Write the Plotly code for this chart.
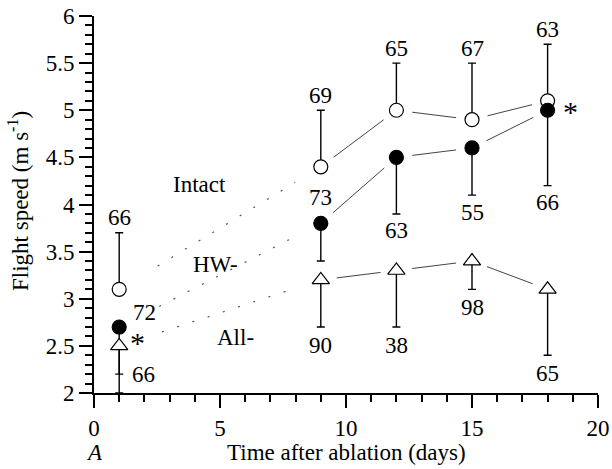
import math
import plotly.graph_objects as go

# ---------------- data ----------------
days = [1, 9, 12, 15, 18]

intact_speed = [3.1, 4.4, 5.0, 4.9, 5.1]
intact_err_up = [0.6, 0.6, 0.5, 0.6, 0.6]
intact_n = [66, 69, 65, 67, 63]

hw_speed = [2.7, 3.8, 4.5, 4.6, 5.0]
hw_err_down = [0.7, 0.4, 0.6, 0.5, 0.8]
hw_n = [72, 73, 63, 55, 66]

all_speed = [2.5, 3.2, 3.3, 3.4, 3.1]
all_err_down = [0.3, 0.5, 0.6, 0.3, 0.7]
all_n = [66, 90, 38, 98, 65]

series_names = ["Intact", "HW-", "All-"]
x_ticks = [0, 5, 10, 15, 20]
y_ticks = [2, 2.5, 3, 3.5, 4, 4.5, 5, 5.5, 6]

# ---------------- layout constants ----------------
W, H = 612, 469
ML, MR, MT, MB = 94, 14, 16, 76
PW, PH = W - ML - MR, H - MT - MB
XR = [0, 20]
YR = [2, 6]
sx = PW / (XR[1] - XR[0])
sy = PH / (YR[1] - YR[0])
FONT = "Liberation Serif"
FS = 23
FS_STAR = 30

SOLID_GAP = 16
DOT_GAP_START = 45
DOT_GAP_END = 30


def trim(xa, ya, xb, yb, ga, gb):
    dx = (xb - xa) * sx
    dy = (yb - ya) * sy
    L = math.hypot(dx, dy)
    ux, uy = dx / L, dy / L
    return ([xa + ga * ux / sx, xb - gb * ux / sx],
            [ya + ga * uy / sy, yb - gb * uy / sy])


fig = go.Figure()

# connecting lines
for ys in (intact_speed, hw_speed, all_speed):
    sxs, sys_ = [], []
    for i in range(1, len(days) - 1):
        lx, ly = trim(days[i], ys[i], days[i + 1], ys[i + 1], SOLID_GAP, SOLID_GAP)
        sxs += lx + [None]
        sys_ += ly + [None]
    fig.add_trace(go.Scatter(x=sxs, y=sys_, mode="lines",
                             line=dict(color="#444444", width=1),
                             hoverinfo="skip", showlegend=False))
    lx, ly = trim(days[0], ys[0], days[1], ys[1], DOT_GAP_START, DOT_GAP_END)
    fig.add_trace(go.Scatter(x=lx, y=ly, mode="lines",
                             line=dict(color="#555555", width=1.2, dash="2px,14px"),
                             hoverinfo="skip", showlegend=False))

zeros = [0] * len(days)
EB = dict(type="data", symmetric=False, color="black", thickness=1.4, width=4)

fig.add_trace(go.Scatter(
    x=days, y=intact_speed, mode="markers", name=series_names[0],
    marker=dict(symbol="circle", size=14, color="white", line=dict(color="black", width=1.2)),
    error_y=dict(array=intact_err_up, arrayminus=zeros, **EB), showlegend=False))
fig.add_trace(go.Scatter(
    x=days, y=hw_speed, mode="markers", name=series_names[1],
    marker=dict(symbol="circle", size=14, color="black", line=dict(color="black", width=1.2)),
    error_y=dict(array=zeros, arrayminus=hw_err_down, **EB), showlegend=False))
fig.add_trace(go.Scatter(
    x=days, y=all_speed, mode="markers", name=series_names[2],
    marker=dict(symbol="triangle-up", size=15, color="white", line=dict(color="black", width=1.2)),
    error_y=dict(array=zeros, arrayminus=all_err_down, **EB), showlegend=False))

ann = []


def label(x, y, text, xs=0, ys=0, size=FS):
    ann.append(dict(x=x, y=y, xref="x", yref="y", text=text, showarrow=False,
                    xshift=xs, yshift=ys, font=dict(family=FONT, size=size, color="black"),
                    xanchor="center", yanchor="middle"))


for i, d in enumerate(days):
    label(d, intact_speed[i] + intact_err_up[i], str(intact_n[i]), ys=15)
    if i == 0:
        label(d, hw_speed[i], str(hw_n[i]), xs=25, ys=15)
    elif i == 1:
        label(d, hw_speed[i], str(hw_n[i]), ys=26)
    else:
        label(d, hw_speed[i] - hw_err_down[i], str(hw_n[i]), ys=-17)
    if i == 0:
        label(d, all_speed[i] - all_err_down[i], str(all_n[i]), xs=24)
    else:
        label(d, all_speed[i] - all_err_down[i], str(all_n[i]), ys=-18)

# significance asterisks
label(days[0], all_speed[0], "*", xs=18, ys=3, size=FS_STAR)
label(days[-1], hw_speed[-1], "*", xs=23, ys=-1, size=FS_STAR)

# series labels
label(4.17, 4.21, series_names[0])
label(4.84, 3.36, series_names[1])
label(5.6, 2.59, series_names[2])

# axis titles as annotations
ann.append(dict(x=0.5, y=-(452 - (H - MB)) / PH, xref="paper", yref="paper",
                text="Time after ablation (days)", showarrow=False,
                font=dict(family=FONT, size=FS, color="black"), xanchor="center", yanchor="middle"))
ann.append(dict(x=0, y=-(452 - (H - MB)) / PH, xref="paper", yref="paper",
                text="<i>A</i>", showarrow=False,
                font=dict(family=FONT, size=FS, color="black"), xanchor="center", yanchor="middle"))
ann.append(dict(x=(18 - ML) / PW, y=((H - MB) - 201) / PH, xref="paper", yref="paper",
                text="Flight speed (m s<sup>-1</sup>)", showarrow=False, textangle=-90,
                font=dict(family=FONT, size=FS, color="black"), xanchor="center", yanchor="middle"))

axis_common = dict(showline=True, linecolor="black", linewidth=2, ticks="outside",
                   tickcolor="black", tickwidth=2, ticklen=13, showgrid=False, zeroline=False,
                   automargin=False,
                   tickfont=dict(family=FONT, size=FS, color="black"))

fig.update_layout(
    width=W, height=H,
    margin=dict(l=ML, r=MR, t=MT, b=MB, autoexpand=False),
    paper_bgcolor="white", plot_bgcolor="white",
    xaxis=dict(range=XR, tickvals=x_ticks, ticktext=[str(v) for v in x_ticks],
               minor=dict(dtick=1, ticks="outside", ticklen=7, tickcolor="black", tickwidth=2),
               **axis_common),
    yaxis=dict(range=YR, tickvals=y_ticks, ticktext=[f"{v:g}" for v in y_ticks],
               minor=dict(dtick=0.1, ticks="outside", ticklen=7, tickcolor="black", tickwidth=2),
               **axis_common),
    annotations=ann,
    showlegend=False,
)

fig.write_html("out.html")
